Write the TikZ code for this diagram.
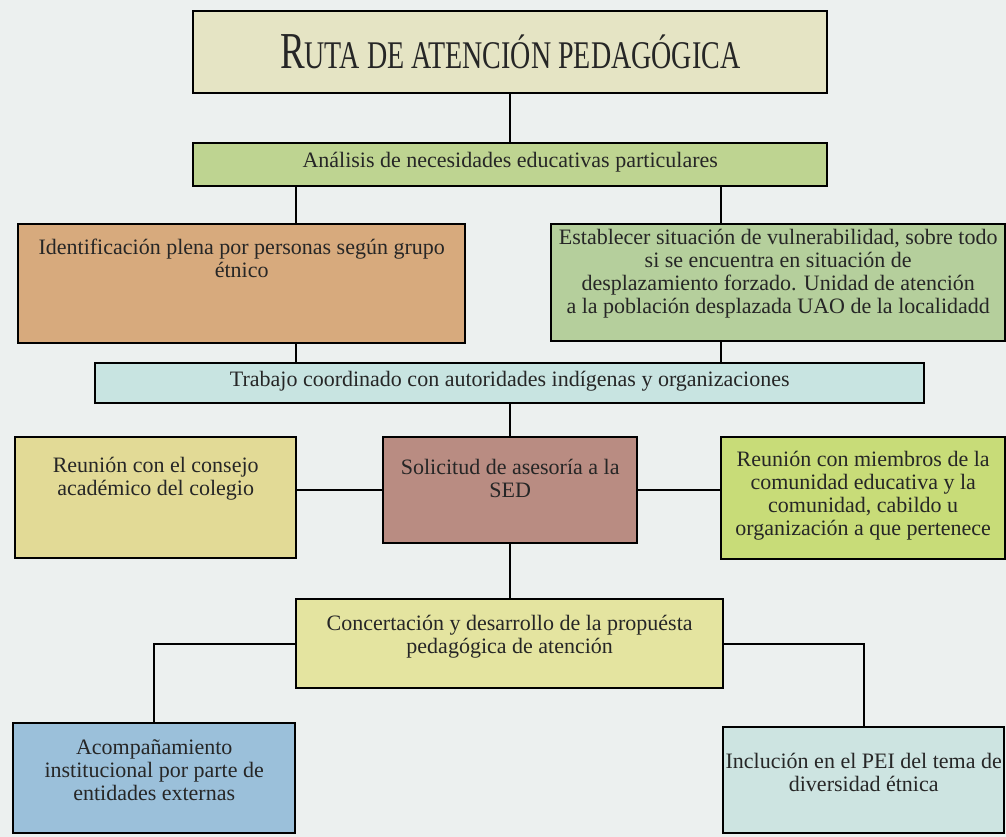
\documentclass[tikz,border=0pt]{standalone}
\usepackage{fontspec}
\setmainfont{Liberation Serif}
\usepackage{xcolor}
\usepackage{graphicx}
\definecolor{mback}{HTML}{ECF0EF}
\definecolor{mkhaki}{HTML}{E5E4C4}
\definecolor{mgreen}{HTML}{BED491}
\definecolor{mtan}{HTML}{D7AA7D}
\definecolor{msage}{HTML}{B5CF9C}
\definecolor{mcyan}{HTML}{C8E4E1}
\definecolor{mstraw}{HTML}{E2DA96}
\definecolor{mmauve}{HTML}{B98C82}
\definecolor{mlime}{HTML}{C8DC78}
\definecolor{mpale}{HTML}{E4E4A0}
\definecolor{mblue}{HTML}{9BC0DA}
\definecolor{maqua}{HTML}{CDE4E1}
\usepackage{tikz}
\newcommand{\boxtext}[4]{\parbox[c][#2pt][t]{#1pt}{\centering\vspace*{#3pt}\rule{0pt}{17pt}#4}}

\begin{document}
\begin{tikzpicture}[x=1pt, y=-1pt,
    box/.style={draw=black, line width=2.4pt, inner sep=0pt, anchor=north west, text=black!85},
    link/.style={line width=2.4pt}]
            \fill[mback] (0, 0) rectangle (1006, 837);
            \useasboundingbox (0, 0) rectangle (1006, 837);
            \fontsize{22}{23}\selectfont
            \node[box, fill=mkhaki, minimum width=634pt, minimum height=82pt] (title) at (192, 10)
                {\scalebox{1}[1.4]{\fontsize{37}{37}\selectfont R\fontsize{28}{28}\selectfont UTA DE ATENCIÓN PEDAGÓGICA}};
            \node[box, fill=mgreen] (anal) at (192, 142) {\boxtext{634}{43}{7}{Análisis  de necesidades educativas particulares}};
            \node[box, fill=mtan] (ident) at (17, 223) {\boxtext{447}{119}{13}{Identificación plena por personas según grupo\\ étnico}};
            \node[box, fill=msage] (estab) at (550, 223) {\boxtext{454}{117}{3}{Establecer situación de vulnerabilidad, sobre todo\\ si se encuentra en situación de\\ desplazamiento forzado. Unidad de atención\\ a la población desplazada UAO de la localidadd}};
            \node[box, fill=mcyan] (trab) at (94, 362) {\boxtext{829}{40}{6}{Trabajo coordinado con autoridades indígenas y organizaciones}};
            \node[box, fill=mstraw] (consejo) at (14, 436) {\boxtext{281}{121}{18}{Reunión con el consejo\\ académico del colegio}};
            \node[box, fill=mmauve] (sed) at (382, 436) {\boxtext{254}{106}{20}{Solicitud de asesoría  a la\\ SED}};
            \node[box, fill=mlime] (miemb) at (720, 436) {\boxtext{284}{122}{12}{Reunión con miembros de la\\ comunidad educativa y la\\ comunidad, cabildo u\\ organización a que pertenece}};
            \node[box, fill=mpale] (concert) at (295, 598) {\boxtext{427}{89}{14}{Concertación y desarrollo de la propuésta\\ pedagógica de atención}};
            \node[box, fill=mblue] (acomp) at (12, 722) {\boxtext{282}{110}{14}{Acompañamiento\\ institucional por parte de\\ entidades externas}};
            \node[box, fill=maqua] (inclus) at (722, 726) {\boxtext{281}{106}{24}{Inclución en el PEI del tema de\\ diversidad étnica}};
            \coordinate (jl) at (296, 0);
            \coordinate (jr) at (721, 0);
            \draw[link] (title.south) -- (anal.north);
            \draw[link] (anal.south -| jl) -- (ident.north -| jl);
            \draw[link] (anal.south -| jr) -- (estab.north -| jr);
            \draw[link] (ident.south -| jl) -- (trab.north -| jl);
            \draw[link] (estab.south -| jr) -- (trab.north -| jr);
            \draw[link] (trab.south -| sed.north) -- (sed.north);
            \draw[link] (sed.west) -- (sed.west -| consejo.east);
            \draw[link] (sed.east) -- (sed.east -| miemb.west);
            \draw[link] (sed.south) -- (sed.south |- concert.north);
            \draw[link] (concert.west) -| (acomp.north);
            \draw[link] (concert.east) -| (inclus.north);
        \end{tikzpicture}
\end{document}
